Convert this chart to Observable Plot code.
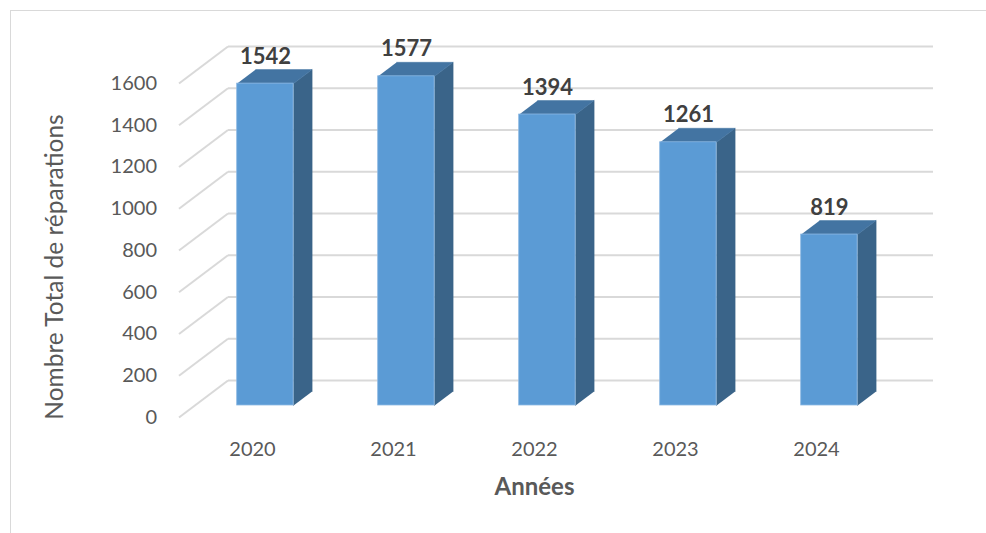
<!DOCTYPE html>
<html>
<head>
<meta charset="utf-8">
<script src="https://cdn.jsdelivr.net/npm/d3@7"></script>
<script src="https://cdn.jsdelivr.net/npm/@observablehq/plot@0.6"></script>
<style>
  html, body { margin: 0; padding: 0; background: #fff; overflow: hidden; }
  #wrap { position: relative; width: 986px; height: 533px; }
  #frame { position: absolute; left: 10px; top: 10px; width: 1200px; height: 900px;
           border: 1px solid #d9d9d9; pointer-events: none; }
  svg { display: block; }
</style>
</head>
<body>
<div id="wrap"><div id="chart"></div><div id="frame"></div></div>
<script>
// ---- data ----
const years = ["2020", "2021", "2022", "2023", "2024"];
const repairs = [1542, 1577, 1394, 1261, 819];
const yTicks = [0, 200, 400, 600, 800, 1000, 1200, 1400, 1600];
const yTitle = "Nombre Total de réparations";
const xTitle = "Années";

// ---- layout / pseudo-3D geometry ----
const W = 986, H = 533;
const xDomain = [-0.5, 4.5], xRange = [178.5, 883.5];
const yDomain = [0, 1600], yRange = [417, 83];
const pxPerX = (xRange[1] - xRange[0]) / (xDomain[1] - xDomain[0]);
const pxPerY = (yRange[0] - yRange[1]) / (yDomain[1] - yDomain[0]);
const depthPx = [49, -37];                    // front floor -> back wall offset
const DX = depthPx[0] / pxPerX;               // in x data units
const DY = -depthPx[1] / pxPerY;              // in y data units
const f1 = 12 / 37, f2 = 26 / 37;             // bar front / back planes
const half = 0.2;                              // half bar width (x units)
const P = (x, y, f) => ({x: x + f * DX, y: y + f * DY});

const data = years.map((year, i) => ({i, year, value: repairs[i]}));

const sidePts = data.flatMap(d => [
  P(d.i + half, 0, f1), P(d.i + half, d.value, f1),
  P(d.i + half, d.value, f2), P(d.i + half, 0, f2)
].map(p => ({...p, year: d.year})));

const topPts = data.flatMap(d => [
  P(d.i - half, d.value, f1), P(d.i + half, d.value, f1),
  P(d.i + half, d.value, f2), P(d.i - half, d.value, f2)
].map(p => ({...p, year: d.year})));

const font = "Lato, 'Open Sans', sans-serif";

const chart = Plot.plot({
  width: W, height: H,
  marginTop: 0, marginRight: 0, marginBottom: 0, marginLeft: 0,
  style: {background: "#fff", fontFamily: font},
  x: {type: "linear", domain: xDomain, range: xRange, axis: null},
  y: {type: "linear", domain: yDomain, range: yRange, axis: null},
  marks: [
    // back wall gridlines
    Plot.link(yTicks, {
      x1: () => xDomain[0] + DX, x2: () => xDomain[1] + DX,
      y1: v => v + DY, y2: v => v + DY,
      stroke: "#d9d9d9", strokeWidth: 2
    }),
    // side wall diagonals
    Plot.link(yTicks, {
      x1: () => xDomain[0], x2: () => xDomain[0] + DX,
      y1: v => v, y2: v => v + DY,
      stroke: "#d9d9d9", strokeWidth: 2
    }),
    // bar side faces
    Plot.line(sidePts, {x: "x", y: "y", z: "year", fill: "#3a6489", stroke: "#3a6489", strokeWidth: 0.5}),
    // bar top faces
    Plot.line(topPts, {x: "x", y: "y", z: "year", fill: "#4374a2", stroke: "#4374a2", strokeWidth: 0.5}),
    // bar front faces
    Plot.rect(data, {
      x1: d => d.i - half + f1 * DX, x2: d => d.i + half + f1 * DX,
      y1: () => f1 * DY, y2: d => d.value + f1 * DY,
      fill: "#5b9bd5", stroke: "#8cb8e3", strokeWidth: 0.8
    }),
    // value labels
    Plot.text(data, {
      x: d => d.i + f1 * DX, y: d => d.value + f1 * DY, text: d => String(d.value),
      dy: -27, fontSize: 22, fontWeight: "bold", fill: "#404040", fontFamily: font
    }),
    // y tick labels
    Plot.text(yTicks, {
      x: () => xDomain[0], y: v => v, text: v => String(v),
      dx: -22, textAnchor: "end", fontSize: 20, fill: "#595959", fontFamily: font
    }),
    // x tick labels
    Plot.text(data, {
      x: "i", y: () => 0, text: "year",
      dx: 3, dy: 32, fontSize: 20, fill: "#595959", fontFamily: font
    }),
    // y title
    Plot.text([yTitle], {
      frameAnchor: "left", textAnchor: "middle", text: d => d, rotate: -90, dx: 55,
      fontSize: 24.5, fill: "#595959", fontFamily: font
    }),
    // x title
    Plot.text([xTitle], {
      x: () => 2, y: () => 0, text: d => d, dx: 3, dy: 70,
      fontSize: 24, fontWeight: "bold", fill: "#595959", fontFamily: font
    })
  ]
});
document.getElementById("chart").appendChild(chart);
</script>
</body>
</html>
